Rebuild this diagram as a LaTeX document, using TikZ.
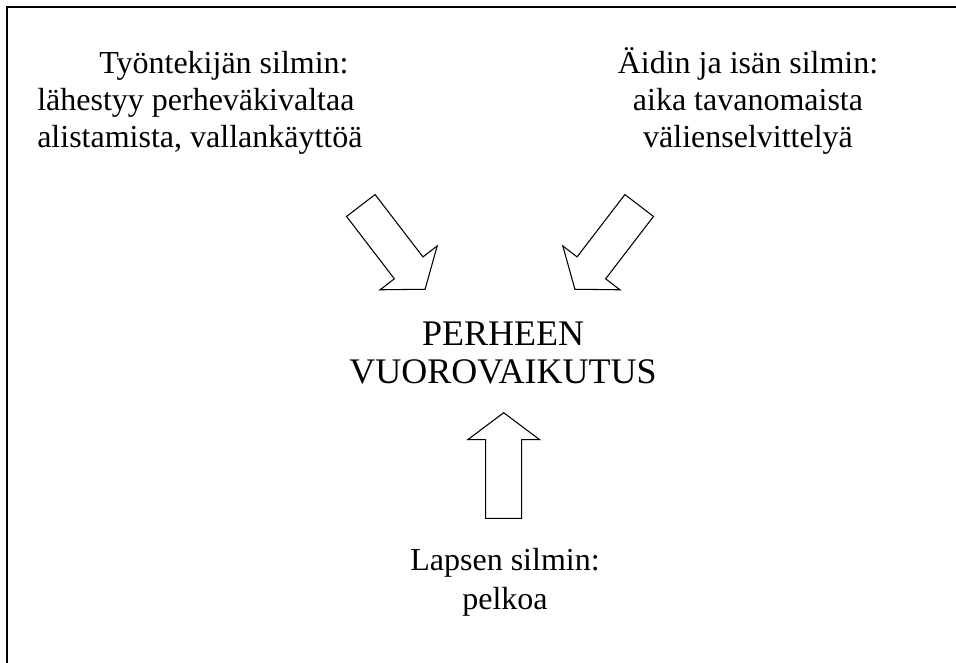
\documentclass[tikz,border=0pt]{standalone}
\usepackage{fontspec}
\setmainfont{Liberation Serif}
\usetikzlibrary{positioning}

\begin{document}
\begin{tikzpicture}[
    x=0.75pt, y=-0.75pt,
    frame/.style={line width=1.5pt},
    eyes/.style={inner sep=0pt, font=\fontsize{24pt}{28pt}\selectfont},
    core/.style={inner sep=0pt, font=\fontsize{27pt}{28.5pt}\selectfont, align=center},
    arrowline/.style={line width=0.8pt, line join=miter},
    bigarrow/.pic={
        \draw[arrowline] (0,-18) -- (78.6,-18) -- (78.6,-36) -- (105.6,0)
            -- (78.6,36) -- (78.6,18) -- (0,18) -- cycle;
    }
]
    \useasboundingbox (0,0) rectangle (956,663);
    \draw[frame] (7,663) -- (7,7) -- (956,7);

    % anchor=base sits on the last line
    \node[eyes, align=left, anchor=base west] (worker) at (37,148)
        {\hspace*{46.5pt}Työntekijän silmin:\\lähestyy perheväkivaltaa\\alistamista, vallankäyttöä};
    \node[eyes, align=center, anchor=base] (parents) at (748,148)
        {Äidin ja isän silmin:\\aika tavanomaista\\välienselvittelyä};
    \node[core, anchor=base] (family) at (503,383) {PERHEEN\\VUOROVAIKUTUS};
    \node[eyes, align=center, anchor=base, font=\fontsize{24pt}{29pt}\selectfont] (child) at (505,609)
        {Lapsen silmin:\\pelkoa};

    \pic[rotate=-52.5] (fromworker) at (360.8,205.5) {bigarrow};
    \pic[rotate=-127.5] (fromparents) at (639.2,205.5) {bigarrow};
    \pic[rotate=90] (fromchild) at (503.7,518.3) {bigarrow};
\end{tikzpicture}
\end{document}
